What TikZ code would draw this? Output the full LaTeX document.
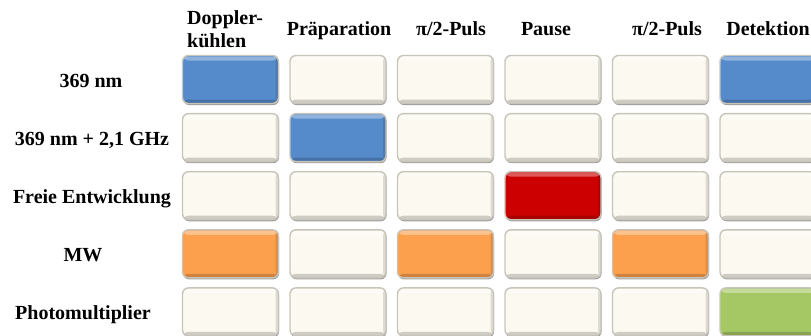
\documentclass[tikz,border=0pt]{standalone}
\usepackage{fontspec}
\setmainfont{Liberation Serif}
\usetikzlibrary{shadows}
\definecolor{cream}{RGB}{252,250,240}
\definecolor{cblue}{RGB}{85,139,203}
\definecolor{cred}{RGB}{204,0,0}
\definecolor{corange}{RGB}{253,160,78}
\definecolor{cgreen}{RGB}{166,200,100}
\definecolor{rimc}{RGB}{200,196,186}
\tikzset{
  cell/.style={rounded corners=6pt, minimum width=96pt, minimum height=48pt,
    draw=rimc, line width=1.4pt, inner sep=0pt, fill=#1,
    drop shadow={shadow xshift=0.6pt, shadow yshift=-1.6pt, opacity=0.55, fill=black!70},
    path picture={
      \fill[white,opacity=0.35] ([yshift=-1pt]path picture bounding box.north west) rectangle ([yshift=-5pt]path picture bounding box.north east);
      \fill[black,opacity=0.18] ([yshift=4pt]path picture bounding box.south west) rectangle (path picture bounding box.south east);
      \fill[black,opacity=0.12] (path picture bounding box.south east) rectangle ([xshift=-3pt]path picture bounding box.north east);
    }},
  cell/.default=cream,
  lbl/.style={font=\fontsize{20}{23}\selectfont\bfseries, inner sep=0pt},
}
\begin{document}
\begin{tikzpicture}[x=1pt,y=-1pt]
\useasboundingbox (0,0) rectangle (811,335);
\clip (0,0) rectangle (811,335);
% headers
\node[lbl, anchor=base west, align=left] (h1) at (187,47) {Doppler-\\kühlen};
\node[lbl, anchor=base] (h2) at (339,35) {Präparation};
\node[lbl, anchor=base] (h3) at (451,35) {π/2-Puls};
\node[lbl, anchor=base] (h4) at (546,35) {Pause};
\node[lbl, anchor=base] (h5) at (667,35) {π/2-Puls};
\node[lbl, anchor=base] (h6) at (768,35) {Detektion};
% row labels
\node[lbl, anchor=base] (l1) at (91,87) {369 nm};
\node[lbl, anchor=base] (l2) at (92,145) {369 nm + 2,1 GHz};
\node[lbl, anchor=base] (l3) at (92,203) {Freie Entwicklung};
\node[lbl, anchor=base] (l4) at (83,261) {MW};
\node[lbl, anchor=base] (l5) at (83,319) {Photomultiplier};
% cells
\foreach \r/\cols in {1/{cblue,cream,cream,cream,cream,cblue},
                      2/{cream,cblue,cream,cream,cream,cream},
                      3/{cream,cream,cream,cred,cream,cream},
                      4/{corange,cream,corange,cream,corange,cream},
                      5/{cream,cream,cream,cream,cream,cgreen}}{
  \foreach \col [count=\c] in \cols {
    \node[cell=\col] (c\r-\c) at ({230.5+107.5*(\c-1)},{79.5+58.1*(\r-1)}) {};
  }
}
\end{tikzpicture}
\end{document}
